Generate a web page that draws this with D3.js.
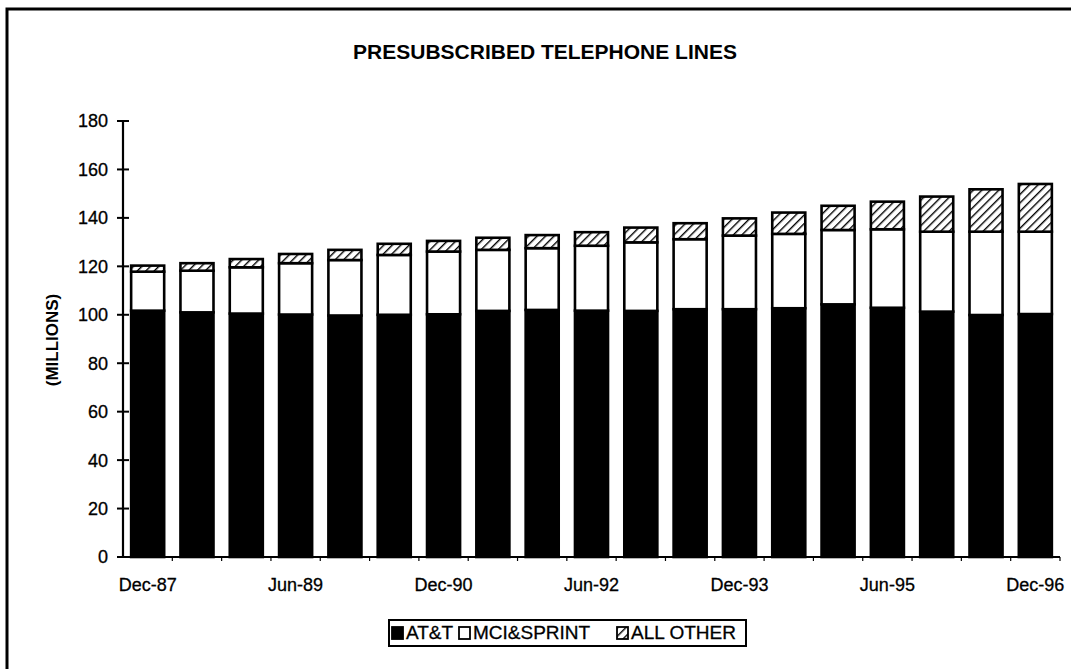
<!DOCTYPE html>
<html>
<head>
<meta charset="utf-8">
<script src="https://cdn.jsdelivr.net/npm/d3@7"></script>
<style>
  html, body { margin: 0; padding: 0; background: #fff; }
  svg { display: block; }
  text { font-family: Arial, "Liberation Sans", Helvetica, sans-serif; fill: #000; }
</style>
</head>
<body>
<svg id="chart" width="1071" height="669"></svg>
<script>
const categories = ["Dec-87","Jun-88","Dec-88","Jun-89","Dec-89","Jun-90","Dec-90","Jun-91","Dec-91","Jun-92",
                    "Dec-92","Jun-93","Dec-93","Jun-94","Dec-94","Jun-95","Dec-95","Jun-96","Dec-96"];
const att      = [101.7,101.0,100.5,100.1,99.7,100.0,100.2,101.6,102.0,101.7,101.6,102.3,102.3,102.7,104.3,102.9,101.3,99.9,100.3];
const mciSprint= [16.1,17.2,19.1,21.2,22.9,24.7,25.9,25.2,25.5,26.8,28.3,28.9,30.4,30.7,30.7,32.4,33.0,34.4,34.0];
const allOther = [2.5,3.1,3.4,3.8,4.2,4.6,4.4,5.0,5.4,5.6,6.1,6.6,7.1,8.8,10.0,11.4,14.5,17.5,19.7];
const seriesNames = ["AT&T","MCI&SPRINT","ALL OTHER"];
const xTickLabels = ["Dec-87","Jun-89","Dec-90","Jun-92","Dec-93","Jun-95","Dec-96"];
const yTicks = [0,20,40,60,80,100,120,140,160,180];
const title = "PRESUBSCRIBED TELEPHONE LINES";
const yTitle = "(MILLIONS)";

const svg = d3.select("#chart");

// pattern
const defs = svg.append("defs");
const pat = defs.append("pattern").attr("id","hatch").attr("patternUnits","userSpaceOnUse")
  .attr("width",6).attr("height",6).attr("patternTransform","rotate(45)");
pat.append("rect").attr("width",6).attr("height",6).attr("fill","#fff");
pat.append("line").attr("x1",0).attr("y1",0).attr("x2",0).attr("y2",6).attr("stroke","#000").attr("stroke-width",2.8);

// frame
svg.append("path").attr("d","M7,680 L7,9 L1080,9").attr("fill","none").attr("stroke","#000").attr("stroke-width",3);

const x = d3.scaleBand().domain(categories).range([123,1060]).paddingInner(0.33).paddingOuter(0.165);
const y = d3.scaleLinear().domain([0,180]).range([557,121]);

const rows = categories.map((c,i)=>({cat:c, "AT&T":att[i], "MCI&SPRINT":mciSprint[i], "ALL OTHER":allOther[i]}));
const stack = d3.stack().keys(seriesNames)(rows);
const fills = {"AT&T":"#000","MCI&SPRINT":"#fff","ALL OTHER":"url(#hatch)"};

svg.append("g").selectAll("g").data(stack).join("g")
  .attr("fill", d=>fills[d.key])
  .selectAll("rect").data(d=>d).join("rect")
  .attr("x", d=>x(d.data.cat))
  .attr("width", x.bandwidth())
  .attr("y", d=>y(d[1]))
  .attr("height", d=>y(d[0])-y(d[1]))
  .attr("stroke","#000").attr("stroke-width",2.6);

// y axis
const yAxis = svg.append("g");
yAxis.append("line").attr("x1",123).attr("x2",123).attr("y1",y(180)).attr("y2",y(0)).attr("stroke","#000").attr("stroke-width",2.2);
yAxis.selectAll("line.t").data(yTicks).join("line").attr("class","t")
  .attr("x1",117).attr("x2",129).attr("y1",d=>y(d)).attr("y2",d=>y(d)).attr("stroke","#000").attr("stroke-width",2);
yAxis.selectAll("text").data(yTicks).join("text")
  .attr("x",108).attr("y",d=>y(d)).attr("dy","0.36em").attr("text-anchor","end")
  .attr("font-size",18).attr("stroke","#000").attr("stroke-width",0.3).text(d=>d);

// x axis
const xAxis = svg.append("g");
xAxis.append("line").attr("x1",122).attr("x2",1060).attr("y1",y(0)).attr("y2",y(0)).attr("stroke","#000").attr("stroke-width",2.2);
const step = x.step();
xAxis.selectAll("line.t").data(categories).join("line").attr("class","t")
  .attr("x1",d=>x(d)-x.paddingInner()*step/2+step).attr("x2",d=>x(d)-x.paddingInner()*step/2+step)
  .attr("y1",y(0)).attr("y2",y(0)+4).attr("stroke","#000").attr("stroke-width",1.2);
xAxis.selectAll("text").data(xTickLabels).join("text")
  .attr("x",d=>x(d)+x.bandwidth()/2).attr("y",591).attr("text-anchor","middle")
  .attr("font-size",18).attr("stroke","#000").attr("stroke-width",0.3).text(d=>d);

// titles
svg.append("text").attr("x",545).attr("y",59).attr("text-anchor","middle")
  .attr("font-size",21).attr("font-weight","bold").text(title);
svg.append("text").attr("transform","translate(58,340) rotate(-90)").attr("text-anchor","middle")
  .attr("font-size",17).attr("font-weight","bold").text(yTitle);

// legend
const lg = svg.append("g");
lg.append("rect").attr("x",389).attr("y",620).attr("width",357).attr("height",26)
  .attr("fill","#fff").attr("stroke","#000").attr("stroke-width",2);
const legX = [392, 459, 617];
const items = lg.selectAll("g.it").data(seriesNames).join("g").attr("class","it")
  .attr("transform",(d,i)=>`translate(${legX[i]},627)`);
items.append("rect").attr("width",11).attr("height",12).attr("fill",d=>fills[d]).attr("stroke","#000").attr("stroke-width",1.8);
items.append("text").attr("x",14).attr("y",12).attr("font-size",19).attr("stroke","#000").attr("stroke-width",0.3).text(d=>d);
</script>
</body>
</html>
